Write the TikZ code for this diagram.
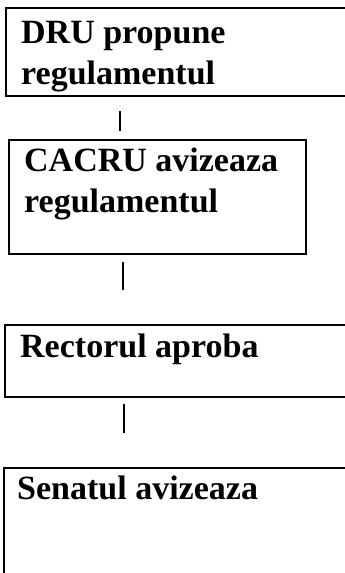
\documentclass[tikz,border=0pt]{standalone}
\usepackage{fontspec}
\setmainfont{Liberation Serif}
\begin{document}
\begin{tikzpicture}[x=1pt,y=-1pt,
  box/.style={draw,line width=2.2pt,anchor=north west,inner sep=0pt},
  lbl/.style={anchor=base west,inner sep=0pt,align=left,font=\fontsize{34}{41}\selectfont\bfseries},
  conn/.style={line width=2.8pt}]
\useasboundingbox (0,0) rectangle (345,573);
\node[box,minimum width=360pt,minimum height=88pt] (b1) at (5,7) {};
\node[box,minimum width=297pt,minimum height=114pt] (b2) at (8,139) {};
\node[box,minimum width=360pt,minimum height=72pt] (b3) at (4,324) {};
\node[box,minimum width=360pt,minimum height=140pt] (b4) at (3,467) {};
\node[lbl] (t1) at (21,84) {DRU propune\\regulamentul};
\node[lbl] (t2) at (24,212) {CACRU avizeaza\\regulamentul};
\node[lbl] (t3) at (20,357) {Rectorul aproba};
\node[lbl] (t4) at (17,499) {Senatul avizeaza};
\coordinate (c1a) at (120,111);
\coordinate (c1b) at (120,131);
\coordinate (c2a) at (123,262);
\coordinate (c2b) at (123,290);
\coordinate (c3a) at (124,404);
\coordinate (c3b) at (124,433);
\draw[conn] (c1a) -- (c1b);
\draw[conn] (c2a) -- (c2b);
\draw[conn] (c3a) -- (c3b);
\end{tikzpicture}
\end{document}
